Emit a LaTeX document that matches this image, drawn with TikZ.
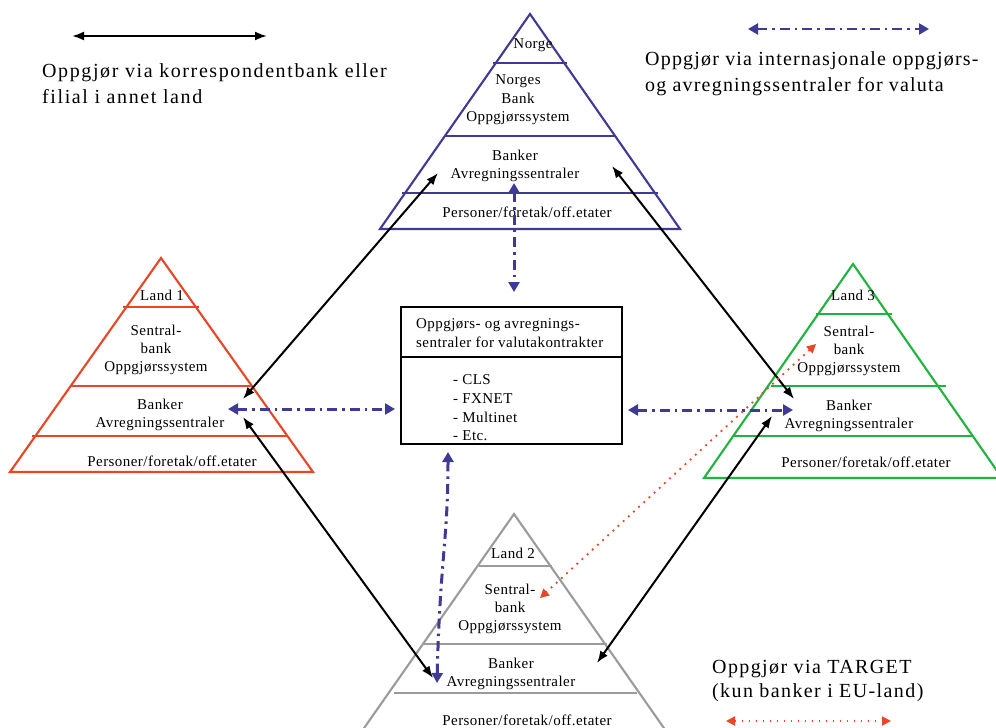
\documentclass[tikz,border=0pt]{standalone}
\usepackage{fontspec}
\setmainfont{Liberation Serif}
\newfontfamily\pyrfont[LetterSpace=3]{Liberation Serif}
\newfontfamily\legfont[LetterSpace=7]{Liberation Serif}
\newfontfamily\legfontb[LetterSpace=8]{Liberation Serif}
\newfontfamily\legfontc[LetterSpace=6]{Liberation Serif}
\usetikzlibrary{arrows.meta}
\definecolor{navy}{RGB}{62,58,150}
\definecolor{lred}{RGB}{232,70,36}
\definecolor{lgreen}{RGB}{32,180,62}
\definecolor{lgray}{RGB}{155,155,155}
\begin{document}
\begin{tikzpicture}[x=1pt,y=-1pt,
  pyr/.style={font=\pyrfont\fontsize{15}{18.3}\selectfont, align=center, inner sep=0pt},
  boxtxt/.style={font=\pyrfont\fontsize{15}{19.5}\selectfont, align=left, inner sep=0pt, anchor=west},
  legtxt/.style={font=\legfont\fontsize{20}{26}\selectfont, align=left, inner sep=0pt, anchor=west},
  pyrline/.style={line width=2.1pt},
  blk/.style={black, line width=2pt, {Latex[length=12pt,width=9pt]}-{Latex[length=12pt,width=9pt]}},
  bdd/.style={navy, line width=3pt, dash pattern=on 10pt off 5pt on 2.5pt off 5pt, {Triangle[length=10pt,width=11pt]}-{Triangle[length=10pt,width=11pt]}},
  tdot/.style={lred, line width=1.8pt, dash pattern=on 1.8pt off 5.2pt, {Triangle[length=9pt,width=9pt]}-{Triangle[length=9pt,width=9pt]}}
]
\useasboundingbox (0,0) rectangle (996,728);
\fill[white] (0,0) rectangle (996,728);

% ---------- Norge pyramid ----------
\begin{scope}[navy, pyrline]
\draw (530,14) -- (380,229) -- (680,229) -- cycle;
\draw (493,63) -- (567,63);
\draw (445,136) -- (615,136);
\draw (402,193) -- (658,193);
\end{scope}
\node[pyr] (nt) at (533,45) {Norge};
\node[pyr] (ns) at (518,100) {Norges\\Bank\\Oppgjørssystem};
\node[pyr] (nb) at (515,166) {Banker\\Avregningssentraler};
\node[pyr] (np) at (527,212) {Personer/foretak/off.etater};

% ---------- Land 1 pyramid ----------
\begin{scope}[lred, pyrline]
\draw (161,258) -- (10,472) -- (313,472) -- cycle;
\draw (123,307) -- (199,307);
\draw (71,386) -- (251,386);
\draw (32,436) -- (287,436);
\end{scope}
\node[pyr] (at) at (162,295) {Land 1};
\node[pyr] (as) at (156,350) {Sentral-\\bank\\Oppgjørssystem};
\node[pyr] (ab) at (160,415) {Banker\\Avregningssentraler};
\node[pyr] (ap) at (172,461) {Personer/foretak/off.etater};

% ---------- Land 3 pyramid ----------
\begin{scope}[lgreen, pyrline]
\draw (853,264) -- (704,478) -- (1002,478) -- cycle;
\draw (816,314) -- (892,314);
\draw (771,386) -- (946,386);
\draw (733,436) -- (973,436);
\end{scope}
\node[pyr] (ct) at (853,295) {Land 3};
\node[pyr] (cs) at (849,351) {Sentral-\\bank\\Oppgjørssystem};
\node[pyr] (cb) at (849,416) {Banker\\Avregningssentraler};
\node[pyr] (cp) at (866,462) {Personer/foretak/off.etater};

% ---------- Land 2 pyramid ----------
\begin{scope}[lgray, pyrline]
\draw (362,731) -- (514,514) -- (666,731);
\draw (479,566) -- (552,566);
\draw (424,644) -- (607,644);
\draw (394,693) -- (637,693);
\end{scope}
\node[pyr] (bt) at (513,553) {Land 2};
\node[pyr] (bs) at (510,609) {Sentral-\\bank\\Oppgjørssystem};
\node[pyr] (bb) at (511,674) {Banker\\Avregningssentraler};
\node[pyr] (bp) at (527,720) {Personer/foretak/off.etater};

% ---------- centre box ----------
\node[draw, line width=2pt, minimum width=221pt, minimum height=137pt, inner sep=0pt] (box) at (511.5,375.5) {};
\coordinate (bd1) at (401,357);
\coordinate (bd2) at (622,357);
\draw[line width=2pt] (bd1) -- (bd2);
\node[boxtxt] (boxt) at (416,333) {Oppgjørs- og avregnings-\\sentraler for valutakontrakter};
\node[boxtxt, font=\pyrfont\fontsize{15}{18.7}\selectfont] (boxl) at (453,408) {- CLS\\- FXNET\\- Multinet\\- Etc.};

% ---------- connector end points ----------
\coordinate (nBL) at (438,173);
\coordinate (aBT) at (243,399);
\coordinate (nBR) at (612,166);
\coordinate (cBT) at (794,399);
\coordinate (aBB) at (243,417);
\coordinate (bBL) at (433,678);
\coordinate (cBB) at (772,416);
\coordinate (bBR) at (597,663);
\coordinate (aH) at (228,409);
\coordinate (xL) at (395,409);
\coordinate (xR) at (628,410);
\coordinate (cH) at (793,410);
\coordinate (nV) at (514,183);
\coordinate (xT) at (514,292);
\coordinate (xB) at (448,452);
\coordinate (bV) at (437,683);
\coordinate (cS) at (816,344);
\coordinate (bS) at (540,598);

% black: correspondent banks
\draw[blk] (nBL) -- (aBT);
\draw[blk] (nBR) -- (cBT);
\draw[blk] (aBB) -- (bBL);
\draw[blk] (cBB) -- (bBR);

% navy dash-dot: international centres
\draw[bdd] (aH) -- (xL);
\draw[bdd] (xR) -- (cH);
\draw[bdd] (nV) -- (xT);
\draw[bdd] (xB) .. controls (448,540) and (440,560) .. (bV);

% red dotted: TARGET
\draw[tdot] (cS) -- (bS);

% ---------- legends ----------
\coordinate (lg1a) at (72,36);
\coordinate (lg1b) at (267,36);
\draw[blk] (lg1a) -- (lg1b);
\node[legtxt, font=\legfontb\fontsize{20}{26}\selectfont] (lg1) at (42,84) {Oppgjør via korrespondentbank eller\\filial i annet land};

\coordinate (lg2a) at (748,29);
\coordinate (lg2b) at (929,29);
\draw[bdd, line width=2.2pt] (lg2a) -- (lg2b);
\node[legtxt, font=\legfontc\fontsize{20}{26}\selectfont] (lg2) at (645,74) {Oppgjør via internasjonale oppgjørs-\\og avregningssentraler for valuta};

\coordinate (lg3a) at (726,721);
\coordinate (lg3b) at (891,721);
\draw[tdot] (lg3a) -- (lg3b);
\node[legtxt, font=\legfont\fontsize{20}{24}\selectfont] (lg3) at (712,681) {Oppgjør via TARGET\\(kun banker i EU-land)};
\end{tikzpicture}
\end{document}
